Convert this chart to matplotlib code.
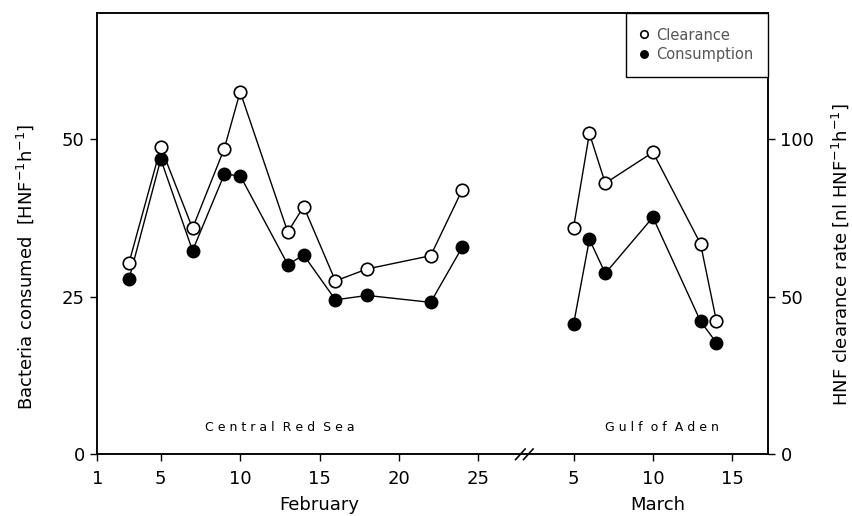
import matplotlib
matplotlib.use("Agg")
import matplotlib.pyplot as plt
import matplotlib.transforms as mtransforms

# day positions on a continuous axis: February days as is, March day d -> d + 26
feb_days = [3, 5, 7, 9, 10, 13, 14, 16, 18, 22, 24]
mar_days = [5, 6, 7, 10, 13, 14]
MAR_SHIFT = 26

# Bacteria consumed [HNF-1 h-1] (left axis)
feb_consumption = [27.8, 46.8, 32.3, 44.4, 44.2, 30.1, 31.6, 24.5, 25.2, 24.1, 32.9]
mar_consumption = [20.6, 34.1, 28.7, 37.6, 21.1, 17.7]

# HNF clearance rate [nl HNF-1 h-1] (right axis)
feb_clearance = [60.8, 97.4, 71.7, 97.0, 115.0, 70.5, 78.6, 55.0, 58.8, 63.0, 84.0]
mar_clearance = [71.9, 101.8, 86.0, 95.8, 66.8, 42.3]

feb_ticks = [1, 5, 10, 15, 20, 25]
mar_ticks = [5, 10, 15]

plt.rcParams['font.family'] = ['DejaVu Sans']
fig = plt.figure(figsize=(8.52, 5.16), dpi=100)
ax = fig.add_axes([0.1142, 0.1196, 0.7872, 0.8552])
ax2 = ax.twinx()

mar_x = [d + MAR_SHIFT for d in mar_days]

# consumption, filled circles
ax.plot(feb_days, feb_consumption, '-o', color='black', lw=1, ms=9,
        mfc='black', mec='black', label='Consumption', zorder=3)
ax.plot(mar_x, mar_consumption, '-o', color='black', lw=1, ms=9,
        mfc='black', mec='black', zorder=3)

# clearance, open circles
l_clear, = ax2.plot(feb_days, feb_clearance, '-o', color='black', lw=1, ms=9,
                    mfc='white', mec='black', mew=1.2, label='Clearance', zorder=3)
ax2.plot(mar_x, mar_clearance, '-o', color='black', lw=1, ms=9,
         mfc='white', mec='black', mew=1.2, zorder=3)

ax.set_xlim(1, 43.25)
ax.set_ylim(0, 70)
ax2.set_ylim(0, 140)

ax.set_xticks(feb_ticks + [d + MAR_SHIFT for d in mar_ticks])
ax.set_xticklabels([str(t) for t in feb_ticks] + [str(t) for t in mar_ticks])
ax.set_yticks([0, 25, 50])
ax2.set_yticks([0, 50, 100])

for a in (ax, ax2):
    a.tick_params(direction='out', length=5, width=1, labelsize=13, pad=4)
    for s in a.spines.values():
        s.set_linewidth(1.1)
ax.tick_params(axis='x', pad=6)

# axis break mark on the bottom spine
trans = mtransforms.blended_transform_factory(ax.transData, ax.transAxes)
for dx in (-0.25, 0.25):
    ax.plot([27.6 + dx, 28.2 + dx], [-0.012, 0.012], color='black', lw=1.2,
            transform=trans, clip_on=False, zorder=5)

# month labels
ax.text(15, -0.115, 'February', transform=trans, ha='center', va='center', fontsize=13)
ax.text(36.3, -0.115, 'March', transform=trans, ha='center', va='center', fontsize=13)

# region labels
ax.text(12.5, 4.3, 'C e n t r a l  R e d  S e a', ha='center', va='center', fontsize=9)
ax.text(36.6, 4.2, 'G u l f  o f  A d e n', ha='center', va='center', fontsize=9)

# y labels
ax.text(-0.108, 0.424, 'Bacteria consumed  [HNF$^{-1}$h$^{-1}$]', transform=ax.transAxes,
        rotation=90, ha='center', va='center', fontsize=13)
ax.text(1.107, 0.452, 'HNF clearance rate [nl HNF$^{-1}$h$^{-1}$]', transform=ax.transAxes,
        rotation=90, ha='center', va='center', fontsize=13)

# legend
h1, _ = ax.get_legend_handles_labels()
leg = ax2.legend([l_clear] + h1, ['Clearance', 'Consumption'], loc='upper right',
                 frameon=True, fancybox=False, edgecolor='black', framealpha=1,
                 borderaxespad=0, fontsize=10.5, handlelength=0.6, handletextpad=0.5,
                 borderpad=1.0, labelspacing=0.3, markerscale=0.6)
leg.get_frame().set_linewidth(1.0)
for t in leg.get_texts():
    t.set_color('#555555')
for h in leg.legend_handles:
    h.set_linestyle('none')

fig.savefig('out.png', dpi=100)
